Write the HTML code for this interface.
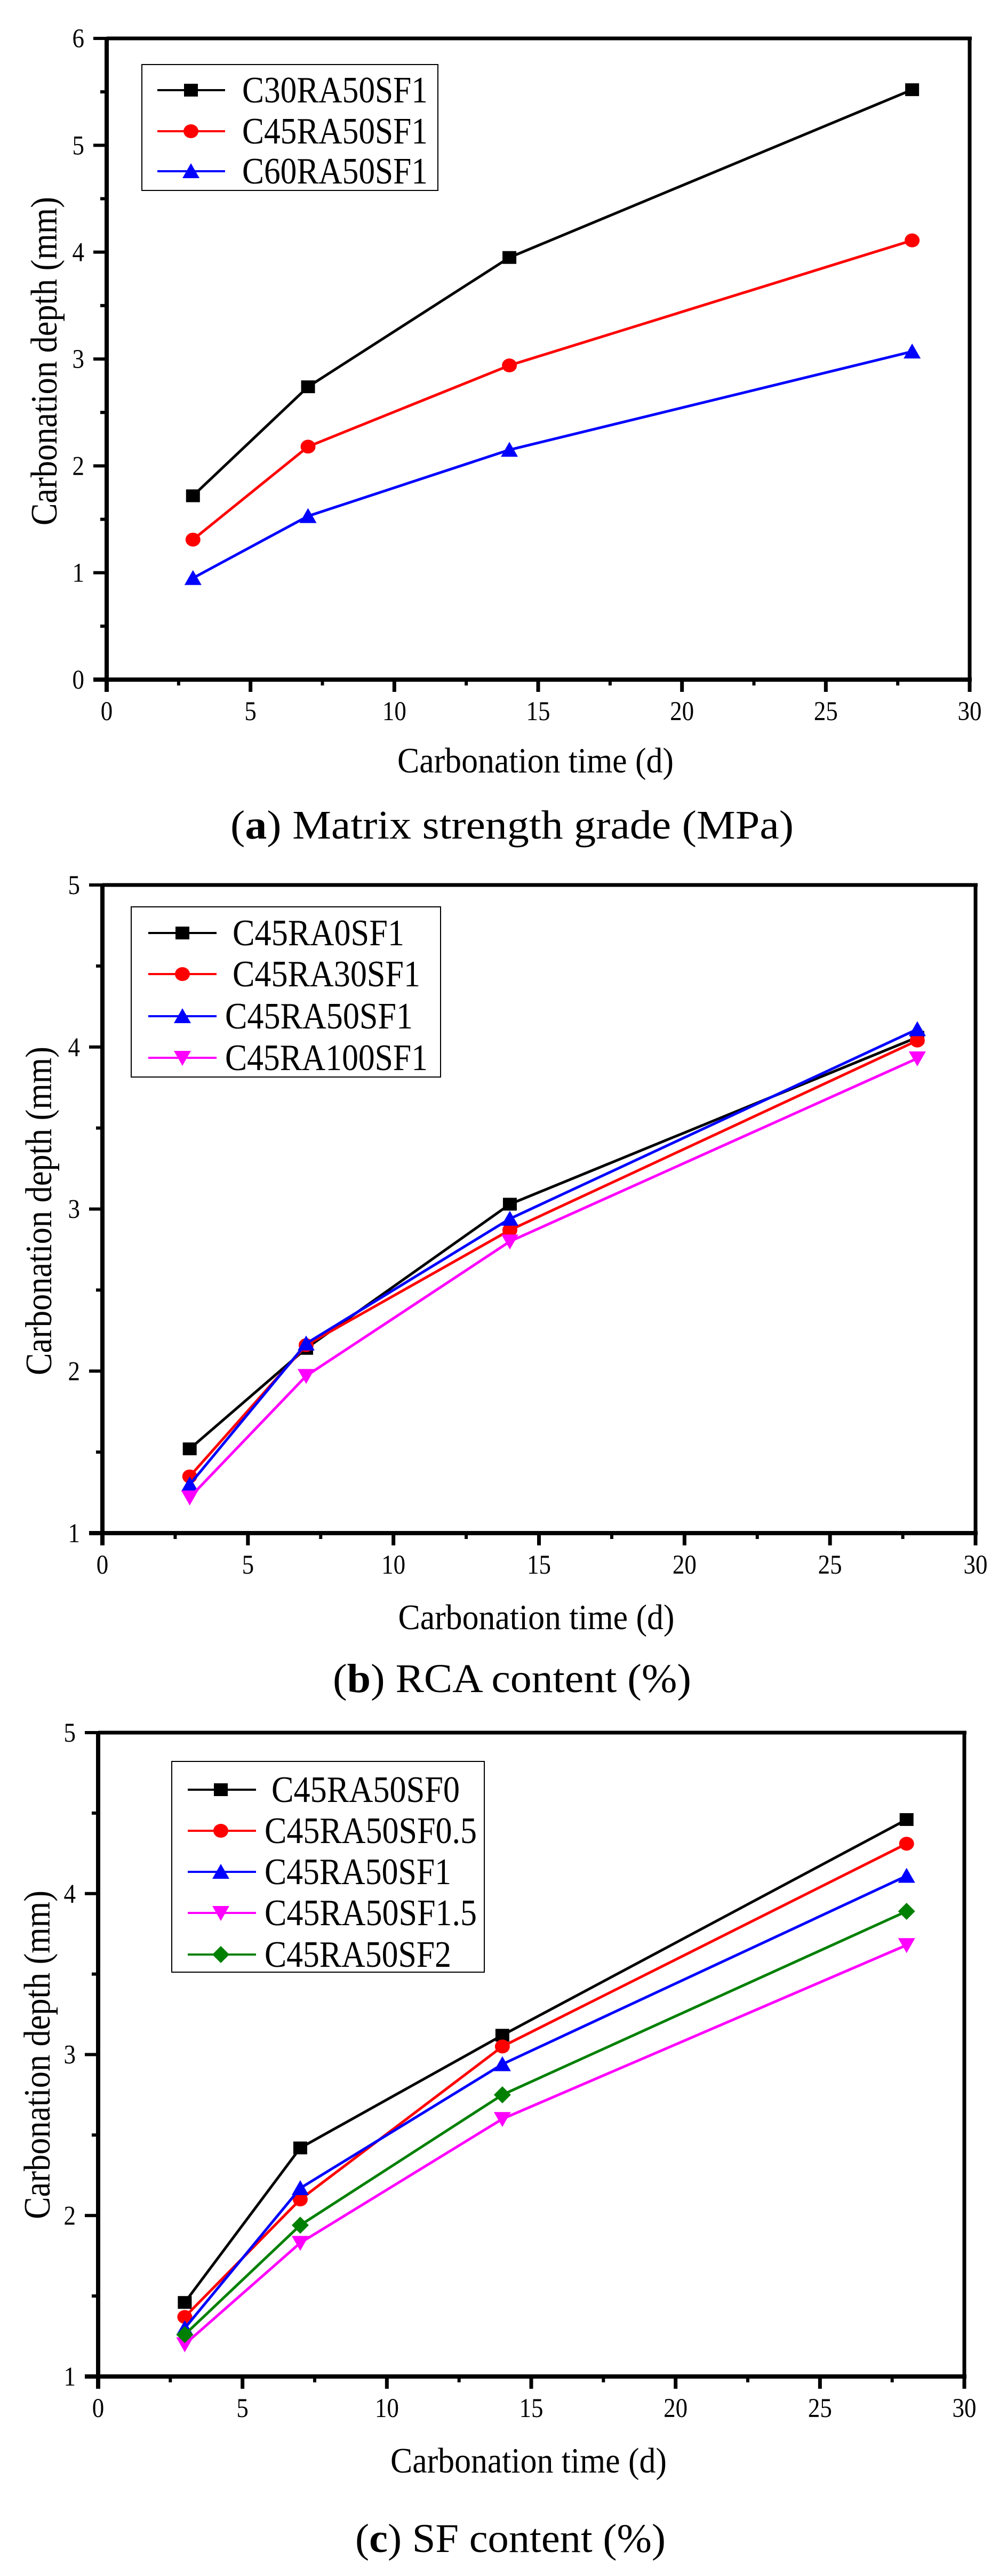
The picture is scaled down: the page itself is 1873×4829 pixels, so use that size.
<!DOCTYPE html>
<html><head><meta charset="utf-8"><style>
html,body{margin:0;padding:0;background:#fff}
svg{display:block}
svg text{font-family:"Liberation Serif","Times New Roman",serif;fill:#000}
</style></head><body>
<svg id="fig" width="1873" height="4829" viewBox="0 0 1873 4829" xmlns="http://www.w3.org/2000/svg" font-family="Liberation Serif, serif"></svg>
<script>
// ---- data ----
const timesDays = [3, 7, 14, 28];
const xTickLabels = ["0","5","10","15","20","25","30"];
const aNames = ["C30RA50SF1","C45RA50SF1","C60RA50SF1"];
const aC30 = [1.72, 2.74, 3.95, 5.52];
const aC45 = [1.31, 2.18, 2.94, 4.11];
const aC60 = [0.95, 1.53, 2.15, 3.07];
const aYTicks = ["0","1","2","3","4","5","6"];
const bNames = ["C45RA0SF1","C45RA30SF1","C45RA50SF1","C45RA100SF1"];
const bRA0 = [1.52, 2.14, 3.03, 4.06];
const bRA30 = [1.35, 2.16, 2.87, 4.04];
const bRA50 = [1.30, 2.17, 2.94, 4.11];
const bRA100 = [1.22, 1.97, 2.80, 3.93];
const bYTicks = ["1","2","3","4","5"];
const cNames = ["C45RA50SF0","C45RA50SF0.5","C45RA50SF1","C45RA50SF1.5","C45RA50SF2"];
const cSF0 = [1.46, 2.42, 3.12, 4.46];
const cSF05 = [1.37, 2.10, 3.05, 4.31];
const cSF1 = [1.30, 2.17, 2.94, 4.11];
const cSF15 = [1.20, 1.83, 2.60, 3.68];
const cSF2 = [1.26, 1.94, 2.75, 3.89];
const cYTicks = ["1","2","3","4","5"];

const NS = "http://www.w3.org/2000/svg";
const svg = document.getElementById('fig');
const FONT = '"Liberation Serif", "Times New Roman", serif';
function el(tag, attrs, parent) {
  const e = document.createElementNS(NS, tag);
  for (const k in attrs) e.setAttribute(k, attrs[k]);
  (parent || svg).appendChild(e);
  return e;
}
const SY = 1.12;
function txt(parent, s, x, y, fs, anchor, len, rot) {
  const g = el('g', {transform: `translate(${x},${y}) ${rot ? 'rotate(-90) ' : ''}scale(1,${SY})`}, parent);
  const t = el('text', {x: 0, y: 0, 'font-size': fs, 'text-anchor': anchor || 'start'}, g);
  t.style.fontFamily = FONT;
  if (len) { t.setAttribute('textLength', len); t.setAttribute('lengthAdjust', 'spacingAndGlyphs'); }
  t.textContent = s;
  return t;
}
function marker(parent, type, cx, cy, color) {
  let m;
  if (type === 'square') m = el('rect', {x: cx-13, y: cy-12, width: 26, height: 24, fill: color}, parent);
  else if (type === 'circle') m = el('ellipse', {cx: cx, cy: cy, rx: 14, ry: 13, fill: color}, parent);
  else if (type === 'up') m = el('polygon', {points: `${cx},${cy-15} ${cx+16},${cy+13} ${cx-16},${cy+13}`, fill: color}, parent);
  else if (type === 'down') m = el('polygon', {points: `${cx},${cy+15} ${cx+16},${cy-13} ${cx-16},${cy-13}`, fill: color}, parent);
  else m = el('polygon', {points: `${cx},${cy-16} ${cx+16},${cy} ${cx},${cy+16} ${cx-16},${cy}`, fill: color}, parent);
  return m;
}

function chart(cfg) {
  const g = el('g', {});
  
  
  const xs = v => cfg.L + (v - 0) / 30 * (cfg.R - cfg.L);
  const ys = v => cfg.B - (v - cfg.ymin) / (cfg.ymax - cfg.ymin) * (cfg.B - cfg.T);
  const frame = el('g', {}, g);
  
  
  el('line', {x1: cfg.L, y1: cfg.T, x2: cfg.R + 4, y2: cfg.T, stroke: '#000', 'stroke-width': 7}, frame);
  el('line', {x1: cfg.R, y1: cfg.T, x2: cfg.R, y2: cfg.B, stroke: '#000', 'stroke-width': 7}, frame);
  el('line', {x1: cfg.L - 25, y1: cfg.B, x2: cfg.R + 4, y2: cfg.B, stroke: '#000', 'stroke-width': 8}, frame);
  el('line', {x1: cfg.L, y1: cfg.T - 3, x2: cfg.L, y2: cfg.B + 23, stroke: '#000', 'stroke-width': 8}, frame);
  const xa = el('g', {}, g);
  
  
  xTickLabels.forEach((lab, i) => {
    const v = i * 5, x = xs(v);
    el('line', {x1: x, y1: cfg.B, x2: x, y2: cfg.B + 23, stroke: '#000', 'stroke-width': 7}, xa);
    if (i < xTickLabels.length - 1) el('line', {x1: xs(v + 2.5), y1: cfg.B, x2: xs(v + 2.5), y2: cfg.B + 11, stroke: '#000', 'stroke-width': 6}, xa);
    const t = txt(xa, lab, x, cfg.B + 76, 45, 'middle');
    
    
  });
  const xt = txt(xa, 'Carbonation time (d)', (cfg.L + cfg.R) / 2 - 5, cfg.B + cfg.xtOff, 60, 'middle', 518);
  
  
  const ya = el('g', {}, g);
  
  
  cfg.yTicks.forEach((lab, i) => {
    const v = cfg.ymin + i, y = ys(v);
    el('line', {x1: cfg.L - 25, y1: y, x2: cfg.L, y2: y, stroke: '#000', 'stroke-width': 6}, ya);
    if (i < cfg.yTicks.length - 1) el('line', {x1: cfg.L - 12, y1: ys(v + 0.5), x2: cfg.L, y2: ys(v + 0.5), stroke: '#000', 'stroke-width': 6}, ya);
    const t = txt(ya, lab, cfg.L - 42, y + 17, 45, 'end');
    
    
  });
  const yt = txt(ya, 'Carbonation depth (mm)', cfg.ytX, cfg.ytY, 62, 'middle', 616, true);
  
  
  cfg.series.forEach((s, si) => {
    const sg = el('g', {}, g);
    
    
    const pts = timesDays.map((t, i) => xs(t) + ',' + ys(s.values[i])).join(' ');
    el('polyline', {points: pts, fill: 'none', stroke: s.color, 'stroke-width': 5, 'stroke-linejoin': 'round'}, sg);
    timesDays.forEach((t, i) => {
      const m = marker(sg, s.marker, xs(t), ys(s.values[i]), s.color);
      
      
    });
  });
  const lg = el('g', {}, g);
  
  
  const lb = cfg.legend;
  el('rect', {x: lb.x1, y: lb.y1, width: lb.x2 - lb.x1, height: lb.y2 - lb.y1, fill: '#fff', stroke: '#000', 'stroke-width': 2}, lg);
  cfg.series.forEach((s, i) => {
    const eg = el('g', {}, lg);
    
    
    const y = lb.rows[i];
    el('line', {x1: lb.lx1, y1: y, x2: lb.lx2, y2: y, stroke: s.color, 'stroke-width': 4}, eg);
    marker(eg, s.marker, lb.mx, y, s.color);
    txt(eg, s.label, lb.tx[i][0], y + 23, 62, 'start', lb.tx[i][1] - lb.tx[i][0]);
  });
  const cap = el('g', {transform: `translate(${cfg.capX},${cfg.capY}) scale(1,${SY})`}, g);
  
  
  const ct = el('text', {x: 0, y: 0, 'font-size': 68, 'text-anchor': 'middle', textLength: cfg.capW, lengthAdjust: 'spacingAndGlyphs'}, cap);
  ct.style.fontFamily = FONT;
  ct.appendChild(document.createTextNode('('));
  const b = el('tspan', {'font-weight': 'bold'}, ct); b.textContent = cfg.capLetter;
  ct.appendChild(document.createTextNode(') ' + cfg.capText));
}

chart({
  name: 'chart-a-matrix-strength', L: 200, R: 1818, T: 72, B: 1274, ymin: 0, ymax: 6, yTicks: aYTicks,
  xtOff: 174, ytX: 106, ytY: 677,
  series: [
    {label: aNames[0], values: aC30, color: '#000000', marker: 'square'},
    {label: aNames[1], values: aC45, color: '#ff0000', marker: 'circle'},
    {label: aNames[2], values: aC60, color: '#0000ff', marker: 'up'}],
  legend: {x1: 266, x2: 821, y1: 121, y2: 357, rows: [169, 246, 321], lx1: 295, lx2: 422, mx: 358,
    tx: [[454, 802], [454, 802], [454, 802]]},
  capX: 960, capY: 1572, capW: 1056, capLetter: 'a', capText: 'Matrix strength grade (MPa)'
});
chart({
  name: 'chart-b-rca-content', L: 192, R: 1829, T: 1659, B: 2874, ymin: 1, ymax: 5, yTicks: bYTicks,
  xtOff: 180, ytX: 96, ytY: 2270,
  series: [
    {label: bNames[0], values: bRA0, color: '#000000', marker: 'square'},
    {label: bNames[1], values: bRA30, color: '#ff0000', marker: 'circle'},
    {label: bNames[2], values: bRA50, color: '#0000ff', marker: 'up'},
    {label: bNames[3], values: bRA100, color: '#ff00ff', marker: 'down'}],
  legend: {x1: 246, x2: 826, y1: 1700, y2: 2019, rows: [1749, 1826, 1905, 1983], lx1: 278, lx2: 406, mx: 342,
    tx: [[436, 758], [436, 788], [422, 774], [422, 802]]},
  capX: 960, capY: 3172, capW: 672, capLetter: 'b', capText: 'RCA content (%)'
});
chart({
  name: 'chart-c-sf-content', L: 184, R: 1808, T: 3248, B: 4455, ymin: 1, ymax: 5, yTicks: cYTicks,
  xtOff: 180, ytX: 93, ytY: 3852,
  series: [
    {label: cNames[0], values: cSF0, color: '#000000', marker: 'square'},
    {label: cNames[1], values: cSF05, color: '#ff0000', marker: 'circle'},
    {label: cNames[2], values: cSF1, color: '#0000ff', marker: 'up'},
    {label: cNames[3], values: cSF15, color: '#ff00ff', marker: 'down'},
    {label: cNames[4], values: cSF2, color: '#008000', marker: 'diamond'}],
  legend: {x1: 322, x2: 908, y1: 3302, y2: 3697, rows: [3355, 3432, 3509, 3586, 3664], lx1: 352, lx2: 480, mx: 414,
    tx: [[509, 862], [496, 894], [496, 846], [496, 894], [496, 846]]},
  capX: 957, capY: 4784, capW: 582, capLetter: 'c', capText: 'SF content (%)'
});
</script>
</body></html>
